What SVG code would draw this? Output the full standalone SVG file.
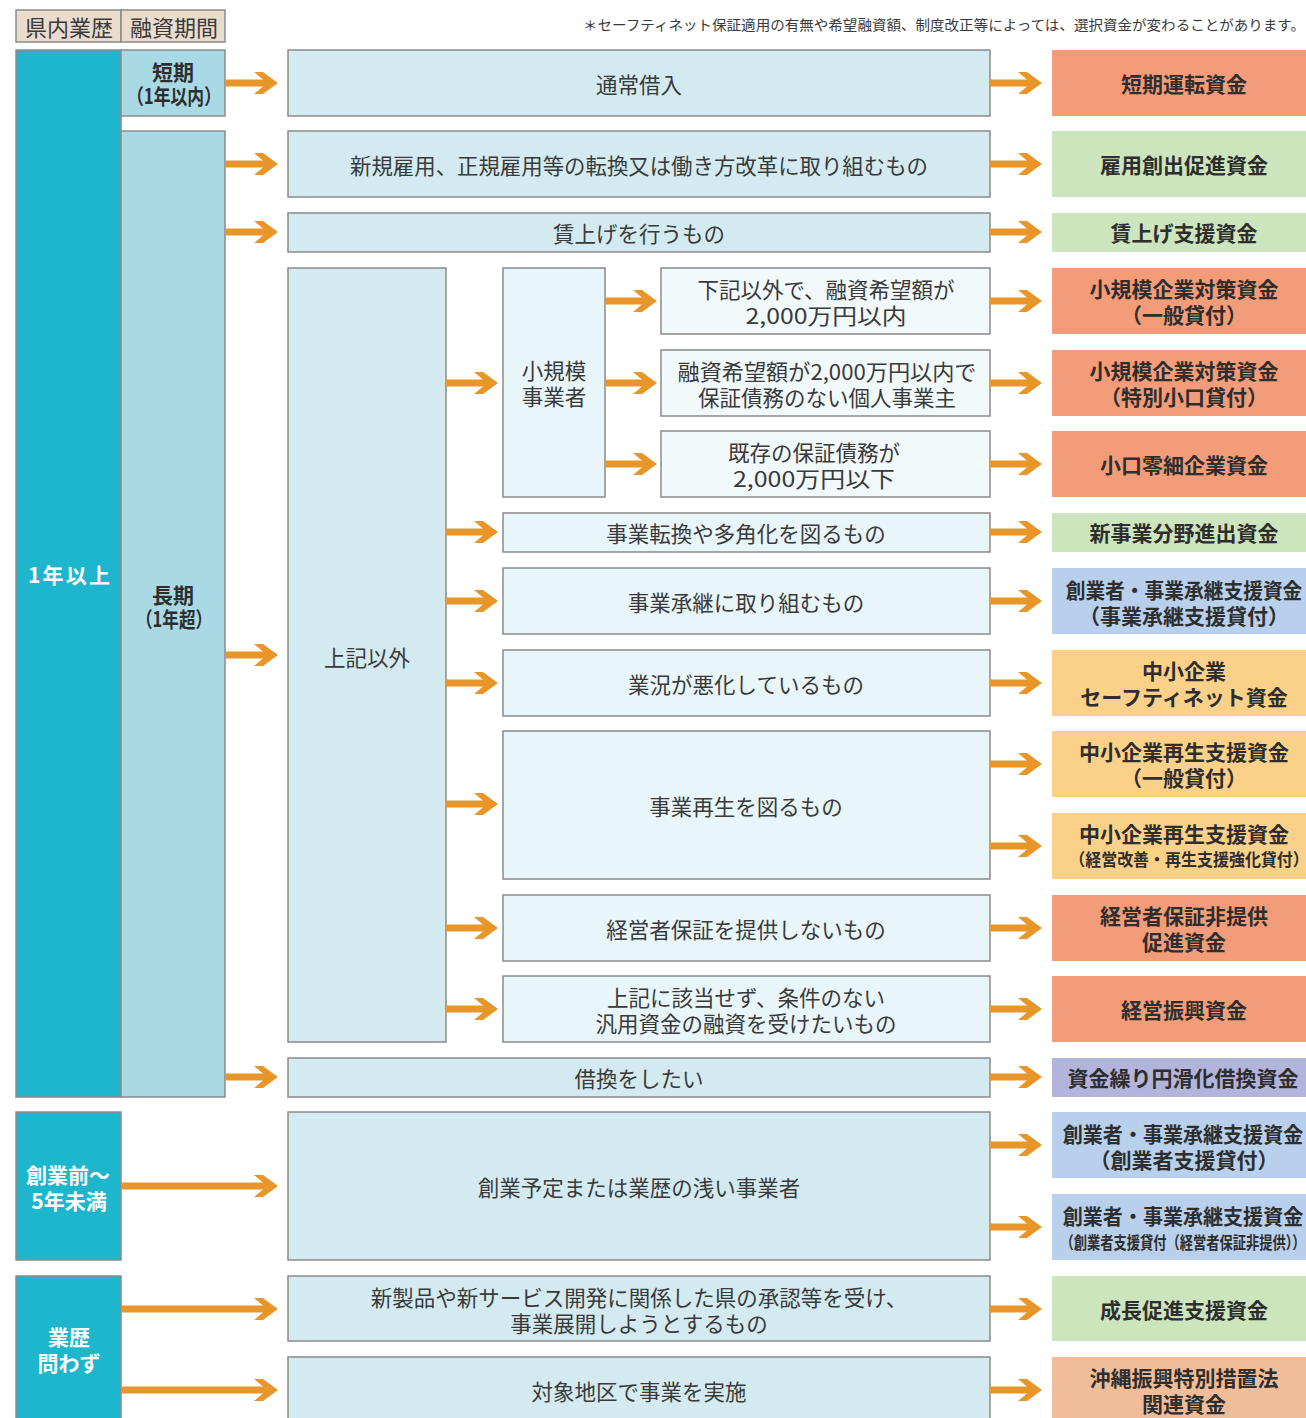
<svg xmlns="http://www.w3.org/2000/svg" width="1306" height="1418" viewBox="0 0 1306 1418">
<style>
text{font-family:"Noto Sans CJK JP","Noto Sans",sans-serif;text-anchor:middle;dominant-baseline:central;fill:#3a3a3a}
.hd{fill:#eadccd;stroke:#8a8a8a;stroke-width:1.5}
.c1{fill:#1db6cc;stroke:#8a8a8a;stroke-width:1.5}
.c2{fill:#a8d9e5;stroke:#8a8a8a;stroke-width:1.5}
.c3{fill:#d3ebf0;stroke:#8a8a8a;stroke-width:1.5}
.c4{fill:#e8f5f9;stroke:#8a8a8a;stroke-width:1.5}
.c5{fill:#f2f9fb;stroke:#8a8a8a;stroke-width:1.5}
.sal{fill:#f39c79}.grn{fill:#cde5bd}.blu{fill:#b8d0eb}.org{fill:#fbd18a}.pur{fill:#b3b4dc}.pch{fill:#f1bd98}
.t{font-size:21.5px}
.b{font-size:21px;font-weight:bold;fill:#2e2e2e}
.s{font-size:17px;font-weight:bold;fill:#2e2e2e}
.w{font-size:21px;font-weight:bold;fill:#ffffff}
.h{font-size:22px;fill:#3a3a3a}
.ar line{stroke:#e8962a;stroke-width:7}
</style>
<defs>
<marker id="ah" markerUnits="userSpaceOnUse" markerWidth="26" markerHeight="24" viewBox="0 0 26 24" refX="16" refY="12" orient="auto">
<path d="M0,1 L9,1 L24,12 L9,23 L0,23 L13,12 Z" fill="#e8962a"/>
</marker>
</defs>
<rect width="1306" height="1418" fill="#ffffff"/>

<g id="header">
<rect class="hd" x="16" y="10" width="105" height="32"/>
<rect class="hd" x="121" y="10" width="104" height="32"/>
<text class="h" x="69" y="26">県内業歴</text>
<text class="h" x="174" y="26">融資期間</text>
<text x="1305" y="24" style="font-size:14px;text-anchor:end" textLength="722" lengthAdjust="spacingAndGlyphs">＊セーフティネット保証適用の有無や希望融資額、制度改正等によっては、選択資金が変わることがあります。</text>
</g>

<g id="col1">
<g id="n-1nen"><rect class="c1" x="16" y="50" width="105" height="1047"/><text class="w" x="69" y="574" textLength="82" lengthAdjust="spacing">1年以上</text></g>
<g id="n-sogyo"><rect class="c1" x="16" y="1112" width="105" height="148"/><text class="w" x="68" y="1174">創業前～</text><text class="w" x="69" y="1200">5年未満</text></g>
<g id="n-gyoreki"><rect class="c1" x="16" y="1276" width="105" height="150"/><text class="w" x="69" y="1336">業歴</text><text class="w" x="69" y="1362">問わず</text></g>
</g>

<g id="col2">
<g id="n-tanki"><rect class="c2" x="121" y="50" width="104" height="66"/><text class="b" x="173" y="71">短期</text><text class="b" x="174" y="95" textLength="94" lengthAdjust="spacingAndGlyphs">（1年以内）</text></g>
<g id="n-choki"><rect class="c2" x="121" y="131" width="104" height="966"/><text class="b" x="173" y="594">長期</text><text class="b" x="174" y="618" textLength="76" lengthAdjust="spacingAndGlyphs">（1年超）</text></g>
</g>

<g id="col3">
<g id="n-tsujo"><rect class="c3" x="288" y="50" width="702" height="66"/><text class="t" x="639" y="83">通常借入</text></g>
<g id="n-koyo"><rect class="c3" x="288" y="131" width="702" height="66"/><text class="t" x="639" y="164" textLength="578" lengthAdjust="spacingAndGlyphs">新規雇用、正規雇用等の転換又は働き方改革に取り組むもの</text></g>
<g id="n-chinage"><rect class="c3" x="288" y="213" width="702" height="39"/><text class="t" x="639" y="232">賃上げを行うもの</text></g>
<g id="n-joki"><rect class="c3" x="288" y="268" width="158" height="774"/><text class="t" x="367" y="656">上記以外</text></g>
<g id="n-karikae"><rect class="c3" x="288" y="1058" width="702" height="39"/><text class="t" x="639" y="1077">借換をしたい</text></g>
<g id="n-sogyoyotei"><rect class="c3" x="288" y="1112" width="702" height="148"/><text class="t" x="639" y="1186">創業予定または業歴の浅い事業者</text></g>
<g id="n-shinseihin"><rect class="c3" x="288" y="1276" width="702" height="65"/><text class="t" x="639" y="1296">新製品や新サービス開発に関係した県の承認等を受け、</text><text class="t" x="639" y="1322">事業展開しようとするもの</text></g>
<g id="n-taisho"><rect class="c3" x="288" y="1357" width="702" height="70"/><text class="t" x="639" y="1390">対象地区で事業を実施</text></g>
</g>

<g id="col4">
<g id="n-shokibo"><rect class="c4" x="503" y="268" width="102" height="229"/><text class="t" x="554" y="369">小規模</text><text class="t" x="554" y="395">事業者</text></g>
<g id="n-kaki"><rect class="c5" x="661" y="268" width="329" height="66"/><text class="t" x="826" y="288">下記以外で、融資希望額が</text><text class="t" x="826" y="314" textLength="161" lengthAdjust="spacingAndGlyphs">2,000万円以内</text></g>
<g id="n-kojin"><rect class="c5" x="661" y="350" width="329" height="66"/><text class="t" x="827" y="370" textLength="299" lengthAdjust="spacingAndGlyphs">融資希望額が2,000万円以内で</text><text class="t" x="827" y="396">保証債務のない個人事業主</text></g>
<g id="n-kison"><rect class="c5" x="661" y="431" width="329" height="66"/><text class="t" x="814" y="451">既存の保証債務が</text><text class="t" x="814" y="477" textLength="162" lengthAdjust="spacingAndGlyphs">2,000万円以下</text></g>
<g id="n-tenkan"><rect class="c4" x="503" y="513" width="487" height="39"/><text class="t" x="746" y="532">事業転換や多角化を図るもの</text></g>
<g id="n-shokei"><rect class="c4" x="503" y="568" width="487" height="66"/><text class="t" x="746" y="601">事業承継に取り組むもの</text></g>
<g id="n-gyokyo"><rect class="c4" x="503" y="650" width="487" height="66"/><text class="t" x="746" y="683">業況が悪化しているもの</text></g>
<g id="n-saisei"><rect class="c4" x="503" y="731" width="487" height="148"/><text class="t" x="746" y="805">事業再生を図るもの</text></g>
<g id="n-hosho"><rect class="c4" x="503" y="895" width="487" height="66"/><text class="t" x="746" y="928">経営者保証を提供しないもの</text></g>
<g id="n-hanyo"><rect class="c4" x="503" y="976" width="487" height="66"/><text class="t" x="746" y="996">上記に該当せず、条件のない</text><text class="t" x="746" y="1022">汎用資金の融資を受けたいもの</text></g>
</g>

<g id="funds">
<g id="f1"><rect class="sal" x="1052" y="50" width="254" height="66"/><text class="b" x="1184" y="83">短期運転資金</text></g>
<g id="f2"><rect class="grn" x="1052" y="131" width="254" height="66"/><text class="b" x="1184" y="164">雇用創出促進資金</text></g>
<g id="f3"><rect class="grn" x="1052" y="213" width="254" height="39"/><text class="b" x="1184" y="232">賃上げ支援資金</text></g>
<g id="f4"><rect class="sal" x="1052" y="268" width="254" height="66"/><text class="b" x="1184" y="288">小規模企業対策資金</text><text class="b" x="1184" y="314">（一般貸付）</text></g>
<g id="f5"><rect class="sal" x="1052" y="350" width="254" height="66"/><text class="b" x="1184" y="370">小規模企業対策資金</text><text class="b" x="1184" y="396">（特別小口貸付）</text></g>
<g id="f6"><rect class="sal" x="1052" y="431" width="254" height="66"/><text class="b" x="1184" y="464">小口零細企業資金</text></g>
<g id="f7"><rect class="grn" x="1052" y="513" width="254" height="39"/><text class="b" x="1184" y="532">新事業分野進出資金</text></g>
<g id="f8"><rect class="blu" x="1052" y="568" width="254" height="66"/><text class="b" transform="translate(1184 589) scale(0.94 1)">創業者・事業承継支援資金</text><text class="b" x="1184" y="615">（事業承継支援貸付）</text></g>
<g id="f9"><rect class="org" x="1052" y="650" width="254" height="66"/><text class="b" x="1184" y="670">中小企業</text><text class="b" x="1184" y="696">セーフティネット資金</text></g>
<g id="f10"><rect class="org" x="1052" y="731" width="254" height="66"/><text class="b" x="1184" y="751">中小企業再生支援資金</text><text class="b" x="1184" y="777">（一般貸付）</text></g>
<g id="f11"><rect class="org" x="1052" y="813" width="254" height="66"/><text class="b" x="1184" y="833">中小企業再生支援資金</text><text class="s" transform="translate(1189 859) scale(0.94 1)">（経営改善・再生支援強化貸付）</text></g>
<g id="f12"><rect class="sal" x="1052" y="895" width="254" height="66"/><text class="b" x="1184" y="915">経営者保証非提供</text><text class="b" x="1184" y="941">促進資金</text></g>
<g id="f13"><rect class="sal" x="1052" y="976" width="254" height="66"/><text class="b" x="1184" y="1009">経営振興資金</text></g>
<g id="f14"><rect class="pur" x="1052" y="1058" width="254" height="39"/><text class="b" x="1183" y="1077">資金繰り円滑化借換資金</text></g>
<g id="f15"><rect class="blu" x="1052" y="1112" width="254" height="66"/><text class="b" transform="translate(1183 1133) scale(0.955 1)">創業者・事業承継支援資金</text><text class="b" x="1184" y="1159">（創業者支援貸付）</text></g>
<g id="f16"><rect class="blu" x="1052" y="1194" width="254" height="66"/><text class="b" transform="translate(1183 1215) scale(0.955 1)">創業者・事業承継支援資金</text><text class="s" transform="translate(1183 1241) scale(0.78 1)">（創業者支援貸付（経営者保証非提供））</text></g>
<g id="f17"><rect class="grn" x="1052" y="1276" width="254" height="65"/><text class="b" x="1184" y="1309">成長促進支援資金</text></g>
<g id="f18"><rect class="pch" x="1052" y="1357" width="254" height="70"/><text class="b" x="1184" y="1377">沖縄振興特別措置法</text><text class="b" x="1184" y="1403">関連資金</text></g>
</g>

<g id="connectors" class="ar">
<line x1="225" y1="83" x2="270" y2="83" marker-end="url(#ah)"/>
<line x1="225" y1="164" x2="270" y2="164" marker-end="url(#ah)"/>
<line x1="225" y1="232" x2="270" y2="232" marker-end="url(#ah)"/>
<line x1="225" y1="655" x2="270" y2="655" marker-end="url(#ah)"/>
<line x1="225" y1="1077" x2="270" y2="1077" marker-end="url(#ah)"/>
<line x1="121" y1="1186" x2="270" y2="1186" marker-end="url(#ah)"/>
<line x1="121" y1="1309" x2="270" y2="1309" marker-end="url(#ah)"/>
<line x1="121" y1="1390" x2="270" y2="1390" marker-end="url(#ah)"/>
<line x1="446" y1="383" x2="490" y2="383" marker-end="url(#ah)"/>
<line x1="446" y1="532" x2="490" y2="532" marker-end="url(#ah)"/>
<line x1="446" y1="601" x2="490" y2="601" marker-end="url(#ah)"/>
<line x1="446" y1="683" x2="490" y2="683" marker-end="url(#ah)"/>
<line x1="446" y1="804" x2="490" y2="804" marker-end="url(#ah)"/>
<line x1="446" y1="928" x2="490" y2="928" marker-end="url(#ah)"/>
<line x1="446" y1="1009" x2="490" y2="1009" marker-end="url(#ah)"/>
<line x1="605" y1="301" x2="649" y2="301" marker-end="url(#ah)"/>
<line x1="605" y1="383" x2="649" y2="383" marker-end="url(#ah)"/>
<line x1="605" y1="464" x2="649" y2="464" marker-end="url(#ah)"/>
<line x1="990" y1="83" x2="1034" y2="83" marker-end="url(#ah)"/>
<line x1="990" y1="164" x2="1034" y2="164" marker-end="url(#ah)"/>
<line x1="990" y1="232" x2="1034" y2="232" marker-end="url(#ah)"/>
<line x1="990" y1="301" x2="1034" y2="301" marker-end="url(#ah)"/>
<line x1="990" y1="383" x2="1034" y2="383" marker-end="url(#ah)"/>
<line x1="990" y1="464" x2="1034" y2="464" marker-end="url(#ah)"/>
<line x1="990" y1="532" x2="1034" y2="532" marker-end="url(#ah)"/>
<line x1="990" y1="601" x2="1034" y2="601" marker-end="url(#ah)"/>
<line x1="990" y1="683" x2="1034" y2="683" marker-end="url(#ah)"/>
<line x1="990" y1="764" x2="1034" y2="764" marker-end="url(#ah)"/>
<line x1="990" y1="846" x2="1034" y2="846" marker-end="url(#ah)"/>
<line x1="990" y1="928" x2="1034" y2="928" marker-end="url(#ah)"/>
<line x1="990" y1="1009" x2="1034" y2="1009" marker-end="url(#ah)"/>
<line x1="990" y1="1077" x2="1034" y2="1077" marker-end="url(#ah)"/>
<line x1="990" y1="1145" x2="1034" y2="1145" marker-end="url(#ah)"/>
<line x1="990" y1="1227" x2="1034" y2="1227" marker-end="url(#ah)"/>
<line x1="990" y1="1309" x2="1034" y2="1309" marker-end="url(#ah)"/>
<line x1="990" y1="1390" x2="1034" y2="1390" marker-end="url(#ah)"/>
</g>
</svg>
